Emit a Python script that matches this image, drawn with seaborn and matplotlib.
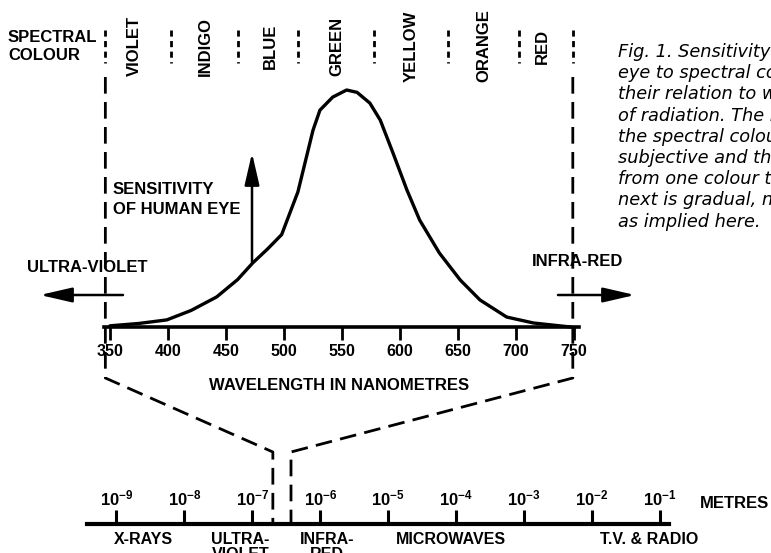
import numpy as np
import matplotlib
matplotlib.use("Agg")
import matplotlib.pyplot as plt
import seaborn as sns
from matplotlib.ticker import NullLocator

# ---- data ----
wavelength_nm = [350, 375, 399, 420, 442, 460, 473, 486, 498, 512, 525, 531, 542,
                 554, 563, 574, 583, 594, 606, 617, 634, 652, 669, 692, 715, 747]
sensitivity = [0.005, 0.015, 0.03, 0.07, 0.127, 0.2, 0.27, 0.33, 0.39, 0.57, 0.83,
               0.915, 0.97, 1.0, 0.99, 0.945, 0.873, 0.734, 0.578, 0.451, 0.312,
               0.198, 0.114, 0.042, 0.017, 0.0]
wavelength_ticks = [350, 400, 450, 500, 550, 600, 650, 700, 750]

colour_names = ["VIOLET", "INDIGO", "BLUE", "GREEN", "YELLOW", "ORANGE", "RED"]
colour_centres_nm = [371, 432, 488, 546, 610, 672, 723]
colour_bounds_nm = [346, 403, 460, 512, 578, 641, 703, 749]

metre_exponents = [-9, -8, -7, -6, -5, -4, -3, -2, -1]
band_labels = ["X-RAYS", "ULTRA-\nVIOLET", "INFRA-\nRED", "MICROWAVES", "T.V. & RADIO"]
band_centres_m = [2.45e-9, 6.7e-8, 1.25e-6, 8.3e-5, 0.068]
visible_edges_m = [2.0e-7, 3.7e-7]

caption_lines = [
    "Fig. 1. Sensitivity of the human",
    "eye to spectral colours and",
    "their relation to wavelength",
    "of radiation. The boundaries of",
    "the spectral colours are",
    "subjective and the transition",
    "from one colour to the",
    "next is gradual, not abrupt",
    "as implied here.",
]

sns.set_theme(style="white")
plt.rcParams["font.family"] = ["Liberation Sans", "DejaVu Sans"]
plt.rcParams["font.weight"] = "bold"
plt.rcParams["text.color"] = "black"
plt.rcParams["xtick.color"] = "black"
plt.rcParams["xtick.labelcolor"] = "black"
plt.rcParams["mathtext.fontset"] = "custom"
plt.rcParams["mathtext.rm"] = "Liberation Sans:bold"
plt.rcParams["mathtext.it"] = "Liberation Sans:bold"
plt.rcParams["mathtext.bf"] = "Liberation Sans:bold"

W, H = 771, 553
fig = plt.figure(figsize=(W / 100, H / 100), dpi=100)
fig.patch.set_facecolor("white")


def frac(left, top, right, bottom):
    # pixel box (from top-left) -> figure fraction rect
    return [left / W, 1 - bottom / H, (right - left) / W, (bottom - top) / H]


# main wavelength axes
ax = fig.add_axes(frac(104.2, 85, 578.6, 327))
ax.set_facecolor("none")
sns.lineplot(x=wavelength_nm, y=sensitivity, ax=ax, color="black", lw=2.4,
             clip_on=False)
ax.set_xlim(345, 754)
ax.set_ylim(0, 242 / 237)
ax.set_xticks(wavelength_ticks)
ax.set_xticklabels([str(t) for t in wavelength_ticks])
ax.set_yticks([])
for s in ["top", "left", "right"]:
    ax.spines[s].set_visible(False)
ax.spines["bottom"].set_linewidth(2.6)
ax.spines["bottom"].set_color("black")
ax.tick_params(axis="x", direction="out", length=9.5, width=2, color="black",
               labelcolor="black", labelsize=11.5, pad=3, bottom=True)

# metres axes (axis line on top, ticks pointing up)
ax2 = fig.add_axes(frac(87, 524, 669, 553))
ax2.set_facecolor("none")
ax2.set_xscale("log")
ax2.set_xlim(10 ** -9.434, 10 ** -0.869)
ax2.set_ylim(0, 1)
ax2.set_xticks([10.0 ** e for e in metre_exponents])
ax2.set_xticklabels([f"$10^{{{e}}}$" for e in metre_exponents])
ax2.xaxis.set_minor_locator(NullLocator())
ax2.set_yticks([])
for s in ["bottom", "left", "right"]:
    ax2.spines[s].set_visible(False)
ax2.spines["top"].set_linewidth(3)
ax2.spines["top"].set_color("black")
ax2.xaxis.set_ticks_position("top")
ax2.tick_params(axis="x", which="major", direction="out", length=10, width=2.2,
                color="black", labelcolor="black", labelsize=12, pad=1,
                top=True, bottom=False, labeltop=True, labelbottom=False)
for name, xm in zip(band_labels, band_centres_m):
    ax2.text(xm, 0.72, name, ha="center", va="top", fontsize=11.5,
             multialignment="center", linespacing=1.0, clip_on=False)

# overlay in pixel coordinates for annotation
deco = fig.add_axes([0, 0, 1, 1])
deco.set_xlim(0, W)
deco.set_ylim(H, 0)
deco.axis("off")
deco.patch.set_visible(False)


def to_px(axis, x, y):
    dx, dy = axis.transData.transform((x, y))
    return dx, H - dy


# colour bands
for name, nm in zip(colour_names, colour_centres_nm):
    deco.text(to_px(ax, nm, 0)[0], 46, name, rotation=90, ha="center",
              va="center", fontsize=12)
for nm in colour_bounds_nm:
    xp = to_px(ax, nm, 0)[0]
    deco.plot([xp, xp], [30, 63], color="black", lw=2, ls=(0, (2.2, 1.6)))

# dashed connectors from visible band to the metres scale
long_dash = (0, (6, 3))
for nm, xm in zip([colour_bounds_nm[0], colour_bounds_nm[-1]], visible_edges_m):
    xp = to_px(ax, nm, 0)[0]
    xq = to_px(ax2, xm, 1)[0]
    deco.plot([xp, xp, xq, xq], [77, 378, 452, 524], color="black", lw=2,
              ls=long_dash)

deco.text(8, 37, "SPECTRAL", ha="left", va="center", fontsize=12)
deco.text(8, 55, "COLOUR", ha="left", va="center", fontsize=12)

deco.text(113, 190, "SENSITIVITY", ha="left", va="center", fontsize=12)
deco.text(113, 210, "OF HUMAN EYE", ha="left", va="center", fontsize=12)
deco.annotate("", xy=(252, 153), xytext=(252, 262),
              arrowprops=dict(arrowstyle="-|>,head_length=1.3,head_width=0.3",
                              lw=1.8, color="black", mutation_scale=15,
                              shrinkA=0, shrinkB=0))

deco.text(27, 267, "ULTRA-VIOLET", ha="left", va="center", fontsize=12)
deco.annotate("", xy=(40, 295), xytext=(123, 295),
              arrowprops=dict(arrowstyle="-|>,head_length=1.3,head_width=0.3",
                              lw=1.8, color="black", mutation_scale=15,
                              shrinkA=0, shrinkB=0))
deco.text(532, 261, "INFRA-RED", ha="left", va="center", fontsize=12)
deco.annotate("", xy=(635, 295), xytext=(558, 295),
              arrowprops=dict(arrowstyle="-|>,head_length=1.3,head_width=0.3",
                              lw=1.8, color="black", mutation_scale=15,
                              shrinkA=0, shrinkB=0))

deco.text(339, 385, "WAVELENGTH IN NANOMETRES", ha="center", va="center",
          fontsize=12)
deco.text(700, 503, "METRES", ha="left", va="center", fontsize=12)

for i, line in enumerate(caption_lines):
    deco.text(618, 52 + i * 21.2, line, ha="left", va="center", fontsize=12.8,
              family="DejaVu Sans", style="oblique", weight="normal")

fig.savefig("out.png", dpi=100)
